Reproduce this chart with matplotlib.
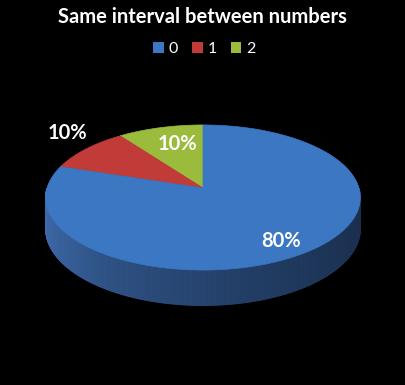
import numpy as np
import matplotlib
matplotlib.use("Agg")
import matplotlib.pyplot as plt
from matplotlib.patches import Polygon, Patch

# ---- data ----
categories = ["0", "1", "2"]
values = [80, 10, 10]
colors = ["#3c77c3", "#c13c38", "#9bbb3c"]
side_light = np.array([0.26, 0.45, 0.72])
side_dark = np.array([0.10, 0.18, 0.30])
title = "Same interval between numbers"

# ---- geometry (pixel space) ----
W, H = 405, 385
cx, cy = 203, 188
R = 156
a = 71.3
k = 0.131
d0 = 30.8

def proj(theta, r=1.0):
    # theta: counter-clockwise from 12 o'clock
    x = -np.sin(theta) * r
    z = np.cos(theta) * r
    s = 1 + k * z
    return cx + R * x / s, cy - a * z / s

fig = plt.figure(figsize=(W / 100, H / 100), dpi=100, facecolor="black")
ax = fig.add_axes([0, 0, 1, 1])
ax.set_xlim(0, W)
ax.set_ylim(H, 0)
ax.axis("off")
ax.set_facecolor("black")

total = float(sum(values))
fracs = np.array(values) / total
# order: green (2) first ccw from top, then red (1), then blue (0)
order = [2, 1, 0]
angs = {}
cur = 0.0
for i in order:
    span = fracs[i] * 2 * np.pi
    angs[i] = (cur, cur + span)
    cur += span

# ---- side (front half) ----
th = np.linspace(np.pi / 2, 3 * np.pi / 2, 400)
for j in range(len(th) - 1):
    t0, t1 = th[j], th[j + 1]
    x0, y0 = proj(t0)
    x1, y1 = proj(t1)
    z0 = np.cos(t0); z1 = np.cos(t1)
    dd0 = d0 / (1 + k * z0); dd1 = d0 / (1 + k * z1)
    frac = (t0 - np.pi / 2) / np.pi
    col = side_light * (1 - frac) ** 1.6 + side_dark * (1 - (1 - frac) ** 1.6)
    tm = (t0 + t1) / 2
    for i in order:
        if angs[i][0] <= tm < angs[i][1]:
            base = np.array(matplotlib.colors.to_rgb(colors[i]))
            blue = np.array(matplotlib.colors.to_rgb(colors[0]))
            col = np.clip(col * base / blue, 0, 1)
    ax.add_patch(Polygon([(x0, y0), (x1, y1), (x1, y1 + dd1), (x0, y0 + dd0)],
                         closed=True, facecolor=col, edgecolor=col, lw=0.6))

# ---- top face ----
for i in order:
    t = np.linspace(angs[i][0], angs[i][1], 200)
    xs, ys = proj(t)
    pts = [(cx, cy)] + list(zip(xs, ys))
    ax.add_patch(Polygon(pts, closed=True, facecolor=colors[i], edgecolor=colors[i], lw=0.5))

# ---- labels ----
label_r = {0: 0.78, 1: 1.22, 2: 0.62}
label_adj = {0: (0, 4), 1: (5, -8), 2: (2, -5)}
for i in order:
    mid = (angs[i][0] + angs[i][1]) / 2
    lx, ly = proj(mid, label_r[i])
    dx, dy = label_adj[i]
    ax.text(lx + dx, ly + dy, f"{values[i] / total * 100:.0f}%", color="white",
            fontsize=14.5, fontweight="bold", family="Lato", ha="center", va="center")

ax.text(W / 2, 17, title, color="white", fontsize=14.5, fontweight="bold",
        family="Lato", ha="center", va="center")

handles = [Patch(facecolor=colors[i], edgecolor="none", label=categories[i]) for i in range(3)]
leg = fig.legend(handles=handles, loc="center", bbox_to_anchor=(0.505, 1 - 49 / H), ncol=3,
                 frameon=False, handlelength=0.65, handleheight=0.65,
                 columnspacing=0.9, handletextpad=0.3, prop={"family": "Lato", "size": 11.5})
for t in leg.get_texts():
    t.set_color("white")

fig.savefig("out.png", dpi=100, facecolor="black")
